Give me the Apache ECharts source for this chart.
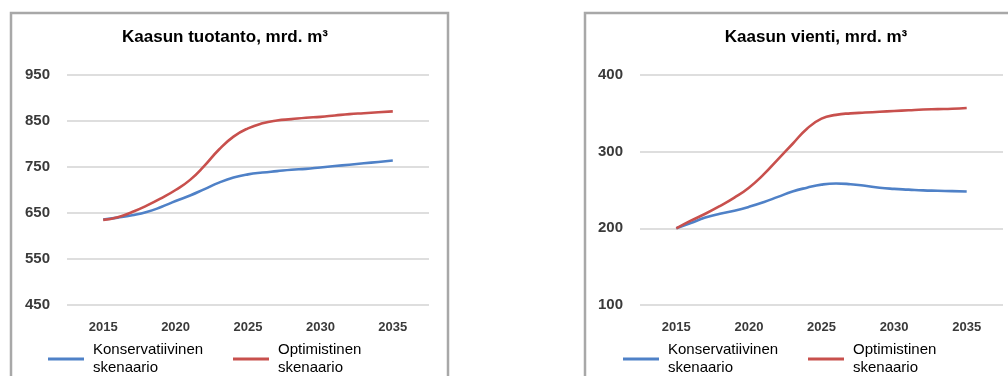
<!DOCTYPE html>
<html>
<head>
<meta charset="utf-8">
<script src="https://cdn.jsdelivr.net/npm/echarts@6/dist/echarts.min.js"></script>
<style>
  html, body { margin: 0; padding: 0; background: #ffffff; }
  #chart { width: 1008px; height: 376px; }
</style>
</head>
<body>
<div id="chart"></div>
<script>
// Years shown on both horizontal axes
const years = [2015, 2016, 2017, 2018, 2019, 2020, 2021, 2022, 2023, 2024, 2025,
               2026, 2027, 2028, 2029, 2030, 2031, 2032, 2033, 2034, 2035];
const yearTicks = [2015, 2020, 2025, 2030, 2035];

// Gas production, bn m3
const productionConservative = [636, 640, 645, 652, 663, 676, 688, 702, 716, 727, 734,
                                738, 741, 744, 746, 749, 752, 755, 758, 761, 764];
const productionOptimistic = [635, 641, 652, 666, 682, 700, 722, 753, 788, 816, 834,
                              845, 851, 854, 857, 859, 862, 865, 867, 869, 871];
const productionTicks = [450, 550, 650, 750, 850, 950];

// Gas exports, bn m3
const exportConservative = [200, 207, 214, 219, 223, 228, 234, 241, 248, 253, 257,
                            258.5, 257.5, 255.5, 253, 251.5, 250.5, 249.5, 249, 248.5, 248];
const exportOptimistic = [200, 210, 219, 229, 240, 253, 270, 290, 310, 330, 343,
                          348, 350, 351, 352, 353, 354, 355, 355.5, 356, 357];
const exportTicks = [100, 200, 300, 400];

const seriesNames = ['Konservatiivinen skenaario', 'Optimistinen skenaario'];
const titles = ['Kaasun tuotanto, mrd. m\u00b3', 'Kaasun vienti, mrd. m\u00b3'];

const BLUE = '#4f81c7';
const RED = '#c8504d';
const FONT = '"Liberation Sans", Arial, sans-serif';

function pairs(values) {
  return years.map((y, i) => [y, values[i]]);
}

function xAxis(gridIndex) {
  return {
    type: 'value', gridIndex, min: 2012.5, max: 2037.5,
    axisLine: { show: false }, axisTick: { show: false, customValues: yearTicks },
    splitLine: { show: false },
    axisLabel: {
      customValues: yearTicks, margin: 16,
      formatter: v => String(v),
      color: '#3a3a3a', fontFamily: FONT, fontSize: 13, fontWeight: 'bold'
    }
  };
}

function yAxis(gridIndex, ticks) {
  return {
    type: 'value', gridIndex, min: ticks[0], max: ticks[ticks.length - 1],
    axisLine: { show: false },
    axisTick: { show: false, customValues: ticks },
    splitLine: { show: true, lineStyle: { color: '#dedede', width: 2 } },
    axisLabel: {
      customValues: ticks, margin: 17,
      formatter: v => String(v),
      color: '#3a3a3a', fontFamily: FONT, fontSize: 15, fontWeight: 'bold'
    }
  };
}

function line(name, color, values, idx) {
  return {
    name, type: 'line', xAxisIndex: idx, yAxisIndex: idx,
    data: pairs(values), smooth: true, showSymbol: false, symbol: 'none',
    lineStyle: { color, width: 2.6 }, itemStyle: { color },
    silent: true, animation: false
  };
}

function legend(name, left) {
  return {
    data: [name], left, top: 341, padding: 0,
    icon: 'rect', itemWidth: 36, itemHeight: 3,
    selectedMode: false,
    formatter: n => n.replace(' ', '\n'),
    textStyle: {
      fontFamily: FONT, fontSize: 15, color: '#000', lineHeight: 18,
      padding: [0, 0, 0, 4]
    }
  };
}

const chart = echarts.init(document.getElementById('chart'), null, { renderer: 'canvas' });

chart.setOption({
  animation: false,
  backgroundColor: '#ffffff',
  graphic: [
    { type: 'rect', shape: { x: 11, y: 13, width: 437, height: 400 },
      style: { fill: 'none', stroke: '#a8a8a8', lineWidth: 2.5 }, silent: true },
    { type: 'rect', shape: { x: 585, y: 13, width: 440, height: 400 },
      style: { fill: 'none', stroke: '#a8a8a8', lineWidth: 2.5 }, silent: true }
  ],
  title: [
    { text: titles[0], left: 225, top: 29, textAlign: 'center', padding: 0,
      textStyle: { fontFamily: FONT, fontSize: 17, fontWeight: 'bold', color: '#000' } },
    { text: titles[1], left: 816, top: 29, textAlign: 'center', padding: 0,
      textStyle: { fontFamily: FONT, fontSize: 17, fontWeight: 'bold', color: '#000' } }
  ],
  legend: [
    legend(seriesNames[0], 48),
    legend(seriesNames[1], 233),
    legend(seriesNames[0], 623),
    legend(seriesNames[1], 808)
  ],
  grid: [
    { left: 67, right: 579, top: 75, bottom: 71 },
    { left: 640, right: 5, top: 75, bottom: 71 }
  ],
  xAxis: [xAxis(0), xAxis(1)],
  yAxis: [yAxis(0, productionTicks), yAxis(1, exportTicks)],
  series: [
    line(seriesNames[0], BLUE, productionConservative, 0),
    line(seriesNames[1], RED, productionOptimistic, 0),
    line(seriesNames[0], BLUE, exportConservative, 1),
    line(seriesNames[1], RED, exportOptimistic, 1)
  ]
});
</script>
</body>
</html>
